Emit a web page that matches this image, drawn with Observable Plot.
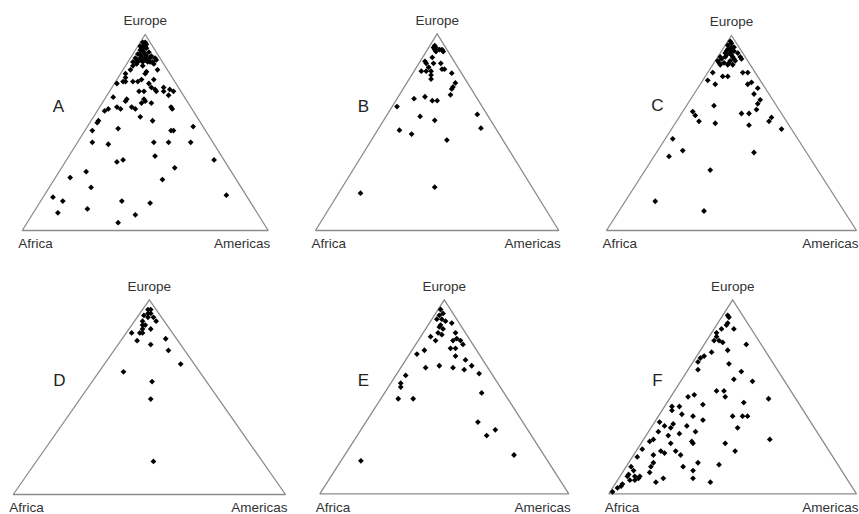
<!DOCTYPE html>
<html>
<head>
<meta charset="utf-8">
<script src="https://cdn.jsdelivr.net/npm/d3@7"></script>
<script src="https://cdn.jsdelivr.net/npm/@observablehq/plot@0.6"></script>
<style>
  html, body { margin: 0; padding: 0; background: #fff; }
  #page { position: relative; width: 859px; height: 514px; overflow: hidden; }
  .panel { position: absolute; }
</style>
</head>
<body>
<div id="page"></div>
<script>
// Ternary compositions, [Europe %, Americas %]; Africa % = 100 - Europe - Americas
const vertexNames = ["Europe", "Africa", "Americas"];
const panelLetters = ["A", "B", "C", "D", "E", "F"];

const panelA = [
  [96,1],[96,2],[94,2],[94,1],[94,3],[93,4],[92,3],[92,2],[91,4],[91,6],[90,2],[90,3],[89,6],[89,8],
  [88,2],[88,4],[88,6],[88,8],[88,10],[86,2],[86,4],[86,6],[86,8],[86,10],[87,11],[85,11],[85,4],
  [95,3],[93,2],[90,5],[89,4],[87,3],[87,5],[87,7],[86,9],[84,3],[84,7],
  [80,2],[82,3],[78,3],[81,10],[80,10],[82,14],[77,10],[76,9],[76,7],[75,1],[76,3],[76,4],[77,15],
  [75,14],[73,16],[73,21],[72,24],[72,18],[71,19],[71,22],[71,26],[71,14],[66,17],[65,16],[71,12],
  [69,25],[68,3],[67,9],[66,9],[65,20],[67,16],[63,29],[62,30],[62,4],[61,3],[63,7],[62,9],[63,13],
  [62,15],[58,19],[56,25],[56,3],[55,3],[51,3],[52,13],[51,35],[51,36],[53,43],[45,6],[44,13],[45,31],
  [45,37],[45,46],[38,35],[36,23],[35,21],[36,60],[30,11],[27,6],[32,46],[26,44],[22,17],[17,4],
  [15,9],[18,74],[15,33],[14,45],[9,10],[11,21],[8,42],[4,37]
];
const panelB = [
  [94,2],[93,3],[92,5],[92,6],[91,7],[92,3],[91,4],[93,2],[88,4],[86,2],[85,3],[85,6],[85,9],[83,5],
  [81,5],[81,7],[82,11],[82,12],[81,3],[80,16],[79,8],[77,9],[75,20],[73,20],[72,20],[69,21],[67,7],
  [68,11],[66,15],[66,17],[63,2],[58,14],[56,21],[59,37],[51,9],[49,15],[52,42],[46,31],[19,9],[22,38]
];
const panelC = [
  [97,1],[96,2],[95,1],[94,3],[94,4],[93,2],[92,4],[92,5],[91,2],[91,4],[91,7],[89,1],[89,3],[89,6],
  [89,9],[87,1],[86,4],[87,6],[87,8],[88,10],[85,3],[85,6],
  [93,3],[92,2],[90,3],[90,5],[88,2],[88,7],[86,2],[86,6],[85,8],
  [81,2],[79,7],[79,9],[81,14],[81,16],[77,2],
  [75,6],[75,19],[76,20],[73,24],[70,24],[67,28],[65,28],[64,11],[62,29],[61,4],[59,6],[60,24],[60,27],
  [58,37],[56,37],[56,9],[55,16],[54,30],[52,44],[47,3],[41,10],[38,6],[40,39],[31,26],[15,12],[10,34]
];
const panelD = [
  [95,2],[95,3],[93,3],[92,2],[93,4],[91,4],[91,6],[89,8],[89,3],[87,4],[85,5],[87,5],[85,8],[83,2],
  [83,5],[83,6],[79,6],[77,12],[80,16],[74,20],[67,28],[63,9],[58,22],[49,26],[17,43]
];
const panelE = [
  [95,1],[93,3],[92,2],[90,2],[90,4],[89,6],[87,5],[86,5],[85,7],[83,6],[82,8],[88,9],[83,13],[81,4],
  [79,7],[79,14],[80,15],[79,17],[77,19],[75,15],[75,17],[74,5],[72,3],[71,19],[69,24],[66,28],[65,10],
  [66,15],[65,21],[64,26],[62,33],[61,4],[57,4],[55,5],[52,39],[49,7],[49,13],[37,45],[33,54],[30,52],
  [20,68],[17,8]
];
const panelF = [
  [92,2],[91,3],[88,4],[87,4],[85,8],[85,3],[83,2],[81,3],[79,3],[79,5],[78,7],[77,17],[74,11],[73,5],
  [71,3],[70,2],[68,2],[67,15],[64,4],[63,22],[59,21],[58,29],[53,17],[53,20],[50,22],[51,9],[50,7],
  [49,40],[47,31],[46,15],[45,3],[43,4],[45,6],[41,9],[40,14],[38,19],[40,30],[40,34],[40,36],[37,2],
  [36,8],[35,5],[34,8],[35,14],[34,35],[32,19],[31,13],[30,9],[32,4],[27,3],[28,4],[26,12],[23,2],
  [22,10],[21,12],[20,8],[22,16],[20,19],[27,20],[26,21],[28,51],[26,34],[22,40],[19,2],[16,10],[14,10],
  [14,2],[12,4],[16,28],[15,37],[14,23],[12,28],[11,11],[10,3],[9,6],[9,8],[7,5],[7,7],[5,3],[4,3],
  [3,2],[1,1],[6,16],[8,18],[8,30],[6,38],[9,3],[8,8]
];
const panelData = [panelA, panelB, panelC, panelD, panelE, panelF];

// Layout (pixels): panel box, triangle box [left, right, top, base], letter position
const layout = [
  {left: 0,   top: 0,   w: 290, h: 257, tri: [21.7, 267.7, 34, 230],    letter: [58, 99]},
  {left: 290, top: 0,   w: 290, h: 257, tri: [315, 558.3, 33.3, 230],   letter: [363, 99]},
  {left: 580, top: 0,   w: 279, h: 257, tri: [606, 856, 35, 230],       letter: [657, 98]},
  {left: 0,   top: 257, w: 290, h: 257, tri: [12.7, 285, 299.3, 494],   letter: [59, 373]},
  {left: 290, top: 257, w: 290, h: 257, tri: [319.3, 568.3, 299.3, 493.3], letter: [363, 373]},
  {left: 580, top: 257, w: 279, h: 257, tri: [608.3, 856, 299.3, 493.3], letter: [657, 373]}
];

// ternary -> cartesian (base width 1, height 1)
const toXY = ([eu, am]) => ({x: am / 100 + eu / 200, y: eu / 100});
const corners = [
  {name: vertexNames[0], ...toXY([100, 0])},
  {name: vertexNames[1], ...toXY([0, 0])},
  {name: vertexNames[2], ...toXY([0, 100])}
];
const outline = [corners[0], corners[1], corners[2], corners[0]];

const page = document.getElementById("page");
const font = "'Liberation Sans', Arial, Helvetica, sans-serif";
const textColor = "#333";

layout.forEach((L, i) => {
  const [tl, tr, tt, tb] = L.tri;
  const pts = panelData[i].map(toXY);
  const chart = Plot.plot({
    width: L.w,
    height: L.h,
    marginLeft: tl - L.left,
    marginRight: L.left + L.w - tr,
    marginTop: tt - L.top,
    marginBottom: L.top + L.h - tb,
    x: {domain: [0, 1], axis: null},
    y: {domain: [0, 1], axis: null},
    style: {background: "transparent", fontFamily: font, fontSize: "13.5px", overflow: "visible"},
    marks: [
      Plot.line(outline, {x: "x", y: "y", stroke: "#8c8c8c", strokeWidth: 1.3, strokeLinejoin: "miter"}),
      Plot.dot(pts, {x: "x", y: "y", symbol: "diamond2", r: 2.6, fill: "#000", stroke: "none"}),
      Plot.text([corners[0]], {x: "x", y: "y", text: "name", dy: -13.5, fill: textColor}),
      Plot.text([corners[1]], {x: "x", y: "y", text: "name", dy: 13.5, dx: -4, textAnchor: "start", fill: textColor}),
      Plot.text([corners[2]], {x: "x", y: "y", text: "name", dy: 13.5, dx: 2, textAnchor: "end", fill: textColor}),
      Plot.text([panelLetters[i]], {
        frameAnchor: "top-left", text: d => d,
        dx: L.letter[0] - tl, dy: L.letter[1] - tt,
        fontSize: 17, fill: "#222", textAnchor: "middle"
      })
    ]
  });
  const div = document.createElement("div");
  div.className = "panel";
  div.style.left = L.left + "px";
  div.style.top = L.top + "px";
  div.appendChild(chart);
  page.appendChild(div);
});
</script>
</body>
</html>
